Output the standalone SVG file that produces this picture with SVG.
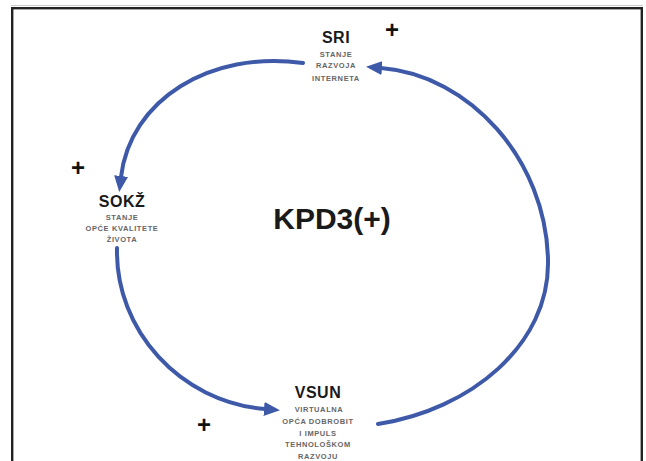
<svg xmlns="http://www.w3.org/2000/svg" width="646" height="461" viewBox="0 0 646 461">
<style>
.title{font-family:"Liberation Sans",Arial,sans-serif;font-weight:bold;font-size:16px;fill:#1a1a1a;text-anchor:middle;letter-spacing:0.5px}
.sub{font-family:"Liberation Sans",Arial,sans-serif;font-weight:bold;font-size:7.5px;fill:#666;text-anchor:middle;letter-spacing:0.6px}
.plus{font-family:"Liberation Sans",Arial,sans-serif;font-weight:bold;font-size:24px;fill:#111;text-anchor:middle}
.center{font-family:"Liberation Sans",Arial,sans-serif;font-weight:bold;font-size:30px;fill:#1a1a1a;text-anchor:middle}
.arc{fill:none;stroke:#3d59a8;stroke-width:4;stroke-linecap:round}
</style>
<defs>
<marker id="ah" viewBox="0 0 16 14" refX="1" refY="7" markerWidth="16" markerHeight="14" markerUnits="userSpaceOnUse" orient="auto">
<path d="M0,0 L16,7 L0,14 z" fill="#3d59a8"/>
</marker>
</defs>
<rect x="0" y="0" width="646" height="461" fill="#fff"/>
<g id="frame">
<line x1="11" y1="5.5" x2="643" y2="5.5" stroke="#ccc" stroke-width="1"/>
<rect x="12.2" y="8.2" width="629.6" height="470" fill="#fff" stroke="#222" stroke-width="2.4"/>
</g>
<g id="connectors">
<path class="arc" d="M303,63 C210,50 130,100 121,177" marker-end="url(#ah)"/>
<path class="arc" d="M117,248 C115,330 180,402 265,409" marker-end="url(#ah)"/>
<path class="arc" d="M378,424 C470,410 550,345 548,260 C546,160 470,75 381,68" marker-end="url(#ah)"/>
</g>
<g id="SRI">
<text class="title" x="336" y="43">SRI</text>
<text class="sub" x="336" y="56.5">STANJE</text>
<text class="sub" x="336" y="68">RAZVOJA</text>
<text class="sub" x="336" y="80.5">INTERNETA</text>
<text class="plus" x="392" y="38">+</text>
</g>
<g id="SOKZ">
<text class="title" x="122" y="207">SOKŽ</text>
<text class="sub" x="122" y="220">STANJE</text>
<text class="sub" x="122" y="231">OPĆE KVALITETE</text>
<text class="sub" x="122" y="242">ŽIVOTA</text>
<text class="plus" x="78" y="176">+</text>
</g>
<g id="VSUN">
<text class="title" x="318" y="398">VSUN</text>
<text class="sub" x="319" y="412">VIRTUALNA</text>
<text class="sub" x="318" y="424">OPĆA DOBROBIT</text>
<text class="sub" x="318" y="435.5">I IMPULS</text>
<text class="sub" x="318" y="447">TEHNOLOŠKOM</text>
<text class="sub" x="318" y="458.5">RAZVOJU</text>
<text class="plus" x="204" y="433">+</text>
</g>
<g id="KPD3">
<text class="center" x="332" y="229">KPD3(+)</text>
</g>
</svg>
